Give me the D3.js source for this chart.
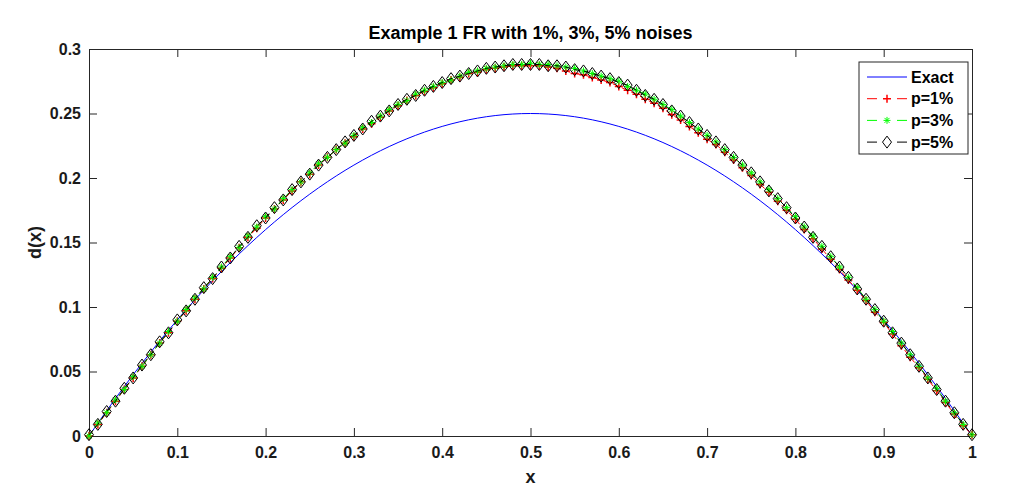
<!DOCTYPE html>
<html>
<head>
<meta charset="utf-8">
<script src="https://cdn.jsdelivr.net/npm/d3@7"></script>
<style>
  body { margin: 0; background: #fff; }
  text { font-family: Arial, "Liberation Sans", sans-serif; font-weight: bold; }
</style>
</head>
<body>
<svg id="chart" width="1009" height="489"></svg>
<script>
const xs = [0,0.01,0.02,0.03,0.04,0.05,0.06,0.07,0.08,0.09,0.1,0.11,0.12,0.13,0.14,0.15,0.16,0.17,0.18,0.19,
  0.2,0.21,0.22,0.23,0.24,0.25,0.26,0.27,0.28,0.29,0.3,0.31,0.32,0.33,0.34,0.35,0.36,0.37,0.38,0.39,
  0.4,0.41,0.42,0.43,0.44,0.45,0.46,0.47,0.48,0.49,0.5,0.51,0.52,0.53,0.54,0.55,0.56,0.57,0.58,0.59,
  0.6,0.61,0.62,0.63,0.64,0.65,0.66,0.67,0.68,0.69,0.7,0.71,0.72,0.73,0.74,0.75,0.76,0.77,0.78,0.79,
  0.8,0.81,0.82,0.83,0.84,0.85,0.86,0.87,0.88,0.89,0.9,0.91,0.92,0.93,0.94,0.95,0.96,0.97,0.98,0.99,1];

const exact = [0,.0099,.0196,.0291,.0384,.0475,.0564,.0651,.0736,.0819,.09,.0979,.1056,.1131,.1204,.1275,.1344,.1411,.1476,.1539,
  .16,.1659,.1716,.1771,.1824,.1875,.1924,.1971,.2016,.2059,.21,.2139,.2176,.2211,.2244,.2275,.2304,.2331,.2356,.2379,
  .24,.2419,.2436,.2451,.2464,.2475,.2484,.2491,.2496,.2499,.25,
  .2499,.2496,.2491,.2484,.2475,.2464,.2451,.2436,.2419,.24,.2379,.2356,.2331,.2304,.2275,.2244,.2211,.2176,.2139,.21,
  .2059,.2016,.1971,.1924,.1875,.1824,.1771,.1716,.1659,.16,.1539,.1476,.1411,.1344,.1275,.1204,.1131,.1056,.0979,.09,
  .0819,.0736,.0651,.0564,.0475,.0384,.0291,.0196,.0099,0];

const p1 = [0,.009,.018,.027,.036,.045,.054,.063,.072,.080,.089,.097,.106,.114,.122,.130,.138,.146,.154,.161,
  .169,.176,.183,.190,.197,.203,.210,.216,.222,.227,.232,.238,.242,.247,.252,.256,.260,.264,.267,.270,
  .273,.276,.278,.281,.282,.284,.285,.286,.287,.287,.287,
  .287,.286,.285,.283,.281,.280,.278,.276,.274,.271,.268,.265,.261,.258,.254,.249,.245,.240,.235,.230,
  .226,.220,.214,.208,.202,.195,.189,.182,.175,.168,.160,.153,.145,.137,.129,.121,.113,.105,.096,.088,
  .079,.070,.061,.053,.044,.035,.026,.017,.008,.001];

const p3 = [0,.010,.018,.028,.036,.046,.054,.063,.072,.081,.089,.098,.107,.114,.123,.131,.139,.146,.155,.162,
  .170,.176,.184,.191,.197,.204,.211,.216,.222,.227,.233,.239,.243,.248,.253,.257,.260,.265,.268,.271,
  .274,.276,.279,.282,.283,.285,.286,.287,.288,.288,.289,
  .288,.288,.287,.286,.285,.283,.281,.279,.277,.275,.271,.268,.265,.261,.257,.253,.248,.243,.238,.233,
  .228,.222,.216,.210,.204,.197,.191,.184,.177,.170,.162,.155,.147,.139,.131,.123,.115,.106,.098,.089,
  .081,.072,.063,.054,.045,.037,.027,.018,.009,.001];

const p5 = [.001,.009,.019,.027,.037,.045,.055,.063,.073,.080,.090,.097,.106,.115,.122,.131,.138,.147,.154,.163,
  .169,.177,.183,.191,.197,.203,.210,.216,.222,.228,.233,.238,.244,.248,.252,.257,.261,.264,.268,.271,
  .274,.277,.279,.281,.283,.285,.286,.287,.288,.288,.288,
  .288,.287,.287,.286,.284,.283,.281,.279,.277,.274,.272,.268,.264,.261,.257,.252,.248,.243,.238,.233,
  .228,.222,.216,.210,.204,.197,.190,.184,.177,.169,.162,.154,.147,.139,.131,.123,.114,.106,.098,.089,
  .080,.072,.063,.054,.045,.036,.027,.018,.009,.001];

const xTicks = [0,0.1,0.2,0.3,0.4,0.5,0.6,0.7,0.8,0.9,1];
const yTicks = [0,0.05,0.1,0.15,0.2,0.25,0.3];
const legendLabels = ["Exact", "p=1%", "p=3%", "p=5%"];

const margin = {left: 89, right: 37, top: 49, bottom: 53};
const width = 1009, height = 489;
const axisColor = "#262626";

const svg = d3.select("#chart");

const x = d3.scaleLinear().domain([0, 1]).range([margin.left, width - margin.right]);
const y = d3.scaleLinear().domain([0, 0.3]).range([height - margin.bottom, margin.top]);

const fmt = d => String(+d.toFixed(2));

// axes, matlab-style box with inner ticks
const gx = svg.append("g")
    .attr("transform", `translate(0,${y(0)})`)
    .call(d3.axisBottom(x).tickValues(xTicks).tickFormat(fmt).tickSizeInner(-8).tickSizeOuter(0).tickPadding(11));
const gxTop = svg.append("g")
    .attr("transform", `translate(0,${y(0.3)})`)
    .call(d3.axisTop(x).tickValues(xTicks).tickFormat("").tickSizeInner(-8).tickSizeOuter(0));
const gy = svg.append("g")
    .attr("transform", `translate(${x(0)},0)`)
    .call(d3.axisLeft(y).tickValues(yTicks).tickFormat(fmt).tickSizeInner(-8).tickSizeOuter(0).tickPadding(8));
const gyRight = svg.append("g")
    .attr("transform", `translate(${x(1)},0)`)
    .call(d3.axisRight(y).tickValues(yTicks).tickFormat("").tickSizeInner(-8).tickSizeOuter(0));

[gx, gxTop, gy, gyRight].forEach(g => {
  g.selectAll("path.domain").attr("stroke", axisColor);
  g.selectAll(".tick line").attr("stroke", axisColor);
  g.selectAll(".tick text")
    .attr("fill", "#1a1a1a")
    .style("font-size", "16px")
    .style("font-family", "Arial, 'Liberation Sans', sans-serif")
    .style("font-weight", "bold");
});

// curves
const line = d3.line()
    .x((d, i) => x(xs[i]))
    .y(d => y(d));

svg.append("path")
    .attr("d", line(exact))
    .attr("fill", "none")
    .attr("stroke", "#0000ff")
    .attr("stroke-width", 1);

const series = [
  {values: p1, color: "#ff0000", marker: "plus"},
  {values: p3, color: "#00ff00", marker: "star"},
  {values: p5, color: "#000000", marker: "diamond"}
];

function markerPath(type) {
  if (type === "plus") return "M-4,0H4M0,-4V4";
  if (type === "star") return "M-3.5,0H3.5M0,-3.5V3.5M-2.5,-2.5L2.5,2.5M-2.5,2.5L2.5,-2.5";
  return "M0,-6L4.5,0L0,6L-4.5,0Z";
}

series.forEach(s => {
  svg.append("path")
      .attr("d", line(s.values))
      .attr("fill", "none")
      .attr("stroke", s.color)
      .attr("stroke-width", 1)
      .attr("stroke-dasharray", "6,4");

  svg.append("g").selectAll("path")
    .data(s.values)
    .join("path")
      .attr("transform", (d, i) => `translate(${x(xs[i])},${y(d)})`)
      .attr("d", markerPath(s.marker))
      .attr("fill", "none")
      .attr("stroke", s.color)
      .attr("stroke-width", s.marker === "plus" ? 1.5 : 1);
});

// title and labels
svg.append("text")
    .attr("x", (x(0) + x(1)) / 2)
    .attr("y", 39)
    .attr("text-anchor", "middle")
    .attr("fill", "#000")
    .style("font-size", "18px")
    .text("Example 1 FR with 1%, 3%, 5% noises");

svg.append("text")
    .attr("x", (x(0) + x(1)) / 2)
    .attr("y", 483)
    .attr("text-anchor", "middle")
    .attr("fill", "#1a1a1a")
    .style("font-size", "18px")
    .text("x");

svg.append("text")
    .attr("transform", `translate(41,${(y(0) + y(0.3)) / 2}) rotate(-90)`)
    .attr("text-anchor", "middle")
    .attr("fill", "#1a1a1a")
    .style("font-size", "18px")
    .text("d(x)");

// legend
const legend = svg.append("g").attr("transform", "translate(859,62)");
legend.append("rect")
    .attr("width", 109)
    .attr("height", 92)
    .attr("fill", "#fff")
    .attr("stroke", axisColor)
    .attr("stroke-width", 1);

const legendItems = [
  {label: legendLabels[0], color: "#0000ff", marker: null},
  {label: legendLabels[1], color: "#ff0000", marker: "plus"},
  {label: legendLabels[2], color: "#00ff00", marker: "star"},
  {label: legendLabels[3], color: "#000000", marker: "diamond"}
];

legendItems.forEach((it, i) => {
  const ly = 15 + i * 21.7;
  const g = legend.append("g").attr("transform", `translate(0,${ly})`);
  if (!it.marker) {
    g.append("line").attr("x1", 8).attr("x2", 48).attr("stroke", it.color);
  } else {
    g.append("line").attr("x1", 8).attr("x2", 18).attr("stroke", it.color);
    g.append("line").attr("x1", 38).attr("x2", 48).attr("stroke", it.color);
    g.append("path")
        .attr("transform", "translate(28,0)")
        .attr("d", markerPath(it.marker))
        .attr("fill", "none")
        .attr("stroke", it.color)
        .attr("stroke-width", it.marker === "plus" ? 1.5 : 1);
  }
  g.append("text")
      .attr("x", 52)
      .attr("dy", "0.36em")
      .attr("fill", "#000")
      .style("font-size", "16px")
      .text(it.label);
});
</script>
</body>
</html>
